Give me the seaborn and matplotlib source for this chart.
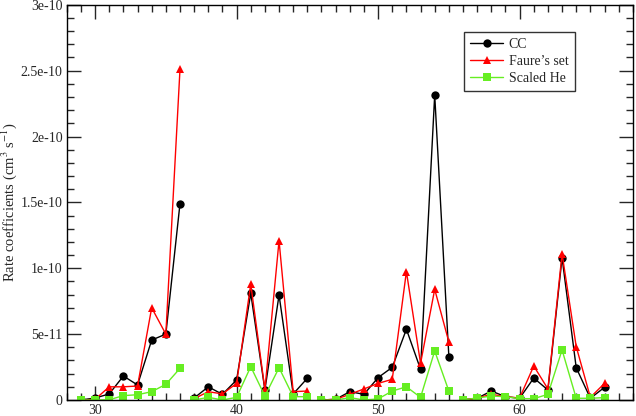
import numpy as np
import pandas as pd
import matplotlib
matplotlib.use("Agg")
import matplotlib.pyplot as plt
import seaborn as sns
from matplotlib.ticker import MultipleLocator, FuncFormatter

# x values (integer index) and the start of each connected segment
x_vals = list(range(29, 67))
seg_starts = [29, 37, 46, 56]

cc = [0.0, 1.5e-12, 4.6e-12, 1.82e-11, 1.14e-11, 4.55e-11, 5.0e-11, 1.49e-10,
      1.5e-12, 1.0e-11, 4.3e-12, 1.52e-11, 8.1e-11, 7.6e-12, 7.97e-11, 4.6e-12, 1.65e-11,
      0.0, 0.5e-12, 6.3e-12, 4.3e-12, 1.7e-11, 2.48e-11, 5.37e-11, 2.33e-11, 2.316e-10, 3.3e-11,
      0.0, 1.3e-12, 6.8e-12, 2.5e-12, 1.3e-12, 1.67e-11, 7.6e-12, 1.08e-10, 2.45e-11, 1.3e-12, 9.6e-12]

faure = [0.0, 0.5e-12, 1.0e-11, 1.0e-11, 1.06e-11, 7.0e-11, 5.0e-11, 2.51e-10,
         1.0e-12, 6.3e-12, 4.6e-12, 1.26e-11, 8.8e-11, 8.0e-12, 1.21e-10, 6.3e-12, 6.8e-12,
         0.0, 0.5e-12, 4.3e-12, 8.4e-12, 1.26e-11, 1.57e-11, 9.75e-11, 2.78e-11, 8.4e-11, 4.4e-11,
         0.0, 1.5e-12, 4.3e-12, 2.5e-12, 1.5e-12, 2.58e-11, 8.4e-12, 1.11e-10, 4.05e-11, 2.0e-12, 1.26e-11]

scaled_he = [0.0, 0.0, 0.2e-12, 3.3e-12, 4.0e-12, 6.3e-12, 1.19e-11, 2.4e-11,
             0.0, 2.0e-12, 0.0, 2.0e-12, 2.53e-11, 3.0e-12, 2.45e-11, 2.5e-12, 2.5e-12,
             0.0, 0.0, 1.8e-12, 0.0, 0.8e-12, 6.8e-12, 1.0e-11, 2.0e-12, 3.72e-11, 6.8e-12,
             0.0, 1.5e-12, 3.0e-12, 2.5e-12, 1.0e-12, 1.0e-12, 4.3e-12, 3.8e-11, 1.3e-12, 1.3e-12, 1.8e-12]

series_names = ["CC", "Faure\u2019s set", "Scaled He"]
colors = {"CC": "black", "Faure\u2019s set": "#ff0000", "Scaled He": "#66ee22"}
markers = {"CC": "o", "Faure\u2019s set": "^", "Scaled He": "s"}

# long table with a segment id so the gaps are kept
seg = np.searchsorted(seg_starts, x_vals, side="right")
rows = []
for name, vals in zip(series_names, [cc, faure, scaled_he]):
    for xv, sv, v in zip(x_vals, seg, vals):
        rows.append({"x": xv, "rate": v, "series": name, "seg": sv})
df = pd.DataFrame(rows)

sns.set_style("ticks")
plt.rcParams["font.family"] = ["Liberation Serif", "DejaVu Serif"]
plt.rcParams["mathtext.fontset"] = "stix"

fig = plt.figure(figsize=(6.36, 4.16), dpi=100)
ax = fig.add_axes([0.105, 0.0385, 0.89, 0.95])

sns.lineplot(data=df, x="x", y="rate", hue="series", style="series", units="seg",
             estimator=None, palette=colors, markers=markers, dashes=False,
             hue_order=series_names, style_order=series_names,
             linewidth=1.0, markersize=6, markeredgewidth=0, ax=ax, legend=False)

ax.set_xlim(28, 68)
ax.set_ylim(0, 3e-10)
ax.xaxis.set_major_locator(MultipleLocator(10))
ax.xaxis.set_minor_locator(MultipleLocator(1))
ax.yaxis.set_major_locator(MultipleLocator(5e-11))
ax.yaxis.set_minor_locator(MultipleLocator(1e-11))

def fmt(v, pos):
    if abs(v) < 1e-20:
        return "0"
    s = "%g" % v
    return s.replace("e-0", "e-")

ax.yaxis.set_major_formatter(FuncFormatter(fmt))
ax.tick_params(which="both", direction="in", top=True, right=True, labelsize=10, pad=3)
ax.tick_params(which="major", length=10, width=1.0)
ax.tick_params(which="minor", length=5, width=1.0)
for sp in ax.spines.values():
    sp.set_linewidth(1.0)
    sp.set_color("black")

ax.set_xlabel("")
ax.set_ylabel("Rate coefficients (cm$^3$ s$^{-1}$)", fontsize=10.5, labelpad=1)

handles = [plt.Line2D([], [], color=colors[n], marker=markers[n], markersize=6,
                      markeredgewidth=0, linewidth=1.0) for n in series_names]
leg = fig.legend(handles, series_names, loc="upper left", bbox_to_anchor=(0.729, 0.924),
                 frameon=True, fancybox=False, fontsize=10, handlelength=2.4,
                 borderpad=0.45, labelspacing=0.3, handletextpad=0.4, borderaxespad=0)
leg.get_frame().set_edgecolor("black")
leg.get_frame().set_linewidth(1.0)

fig.savefig("out.png", dpi=100)
